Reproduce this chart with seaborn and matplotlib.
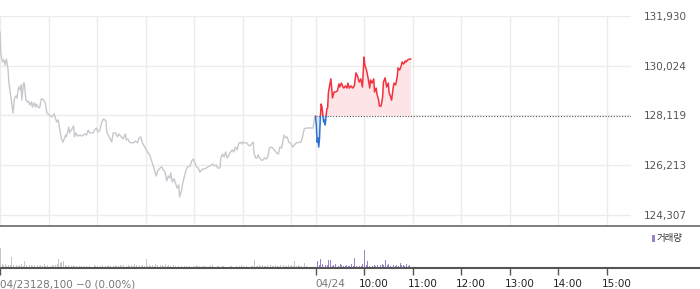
import numpy as np
import pandas as pd
import matplotlib
matplotlib.use("Agg")
import matplotlib.pyplot as plt
import seaborn as sns
from matplotlib.patches import Rectangle
from matplotlib.lines import Line2D
from matplotlib.transforms import ScaledTranslation

# ---------------- data ----------------
# minutes since 09:00 of 04/23 (04/24 session starts at minute 390)
day1_minutes = [
    0, 1, 3, 5, 6, 8, 10, 11, 14, 16, 18, 20, 21, 23, 25, 26, 27, 29, 30, 32,
    34, 35, 37, 39, 40, 42, 44, 45, 47, 49, 51, 53, 56, 58, 61, 64, 67, 70, 72, 74,
    76, 78, 81, 82, 85, 86, 88, 91, 92, 94, 96, 99, 101, 103, 105, 107, 109, 111, 113, 115,
    117, 119, 121, 123, 126, 128, 131, 132, 135, 138, 140, 143, 145, 147, 150, 152, 155, 156, 158, 160,
    163, 165, 167, 170, 172, 174, 176, 179, 181, 183, 185, 187, 189, 191, 193, 195, 198, 200, 202, 204,
    206, 208, 210, 211, 213, 215, 217, 219, 221, 222, 224, 226, 228, 230, 232, 235, 237, 239, 241, 243,
    245, 247, 249, 251, 253, 255, 257, 259, 263, 265, 267, 269, 272, 273, 275, 277, 279, 281, 283, 285,
    287, 289, 291, 293, 295, 297, 299, 300, 302, 305, 307, 309, 311, 313, 314, 316, 318, 319, 321, 323,
    325, 327, 329, 331, 333, 335, 337, 339, 342, 344, 346, 348, 350, 351, 353, 355, 357, 360, 362, 364,
    366, 368, 370, 372, 374, 376, 379, 383, 387, 389, 390,
]
day1_prices = [
    131330, 130510, 130170, 130250, 130050, 130280, 129860, 129360, 128710, 128210,
    128790, 128870, 128790, 129210, 129100, 129290, 128710, 129360, 129360, 128710,
    128640, 128670, 128520, 128640, 128440, 128600, 128440, 128560, 128440, 128410,
    128750, 128750, 128600, 128210, 128140, 128060, 128180, 127870, 127950, 127560,
    127220, 127100, 127370, 127300, 127680, 127450, 127560, 127720, 127300, 127450,
    127330, 127370, 127330, 127370, 127410, 127370, 127560, 127450, 127450, 127450,
    127560, 127640, 127490, 127530, 127870, 127990, 127910, 127490, 127300, 127100,
    127450, 127450, 127300, 127410, 127300, 127220, 127410, 127180, 127220, 127100,
    127070, 127070, 127140, 127070, 127260, 127300, 127070, 126910, 126800, 126680,
    126610, 126410, 126220, 126030, 125800, 125990, 126110, 126150, 126030, 125950,
    125610, 125800, 125720, 125920, 125570, 125690, 125530, 125340, 125460, 125000,
    125190, 125530, 125800, 126030, 126150, 126180, 126380, 126450, 126300, 126150,
    126110, 125950, 126030, 126070, 126070, 126110, 126150, 126180, 126260, 126180,
    126220, 126110, 126110, 126490, 126640, 126530, 126720, 126490, 126610, 126720,
    126800, 126720, 126910, 126800, 127030, 127100, 127030, 127100, 127070, 127070,
    126990, 126950, 127030, 127100, 126680, 126490, 126490, 126610, 126490, 126410,
    126410, 126490, 126450, 126530, 126870, 126910, 126870, 126800, 126680, 126640,
    126910, 126870, 127180, 127370, 127260, 127300, 127100, 127030, 126910, 126990,
    127070, 127070, 127100, 127100, 127300, 127600, 127640, 127640, 127640, 128060,
    128100,
]
day2_minutes = [
    390, 391, 392, 393, 394, 395, 396, 397, 398, 400, 401, 402, 403, 404, 405, 406,
    409, 410, 411, 413, 415, 417, 419, 420, 422, 424, 425, 427, 429, 430, 432, 434,
    436, 438, 440, 442, 444, 446, 448, 450, 451, 453, 455, 457, 458, 460, 462, 463,
    465, 466, 468, 469, 471, 473, 474, 476, 478, 480, 481, 483, 484, 486, 487, 489,
    491, 492, 494, 496, 497, 499, 501, 502, 504, 506, 508,
]
day2_prices = [
    128100, 127760, 127100, 127260, 126910, 127260, 128060, 128560, 128440, 127870,
    127950, 127760, 128060, 128370, 128410, 129020, 129520, 129170, 128790, 129020,
    129020, 129060, 129330, 129210, 129360, 129210, 129170, 129250, 129170, 129360,
    129170, 129250, 129170, 129250, 129750, 129630, 129400, 129520, 129210, 130360,
    130050, 129860, 129560, 129170, 129480, 129360, 129520, 129020, 129170, 128940,
    128710, 128480, 128480, 128830, 129400, 129560, 129210, 129360, 128980, 128830,
    128710, 129170, 129360, 129290, 129590, 129940, 129860, 130020, 130170, 130090,
    130210, 130170, 130250, 130280, 130280,
]
prev_close = 128100

# volume, one bar per 2 minutes
day1_volume = [
    20, 4, 3, 4, 2, 3, 3, 11, 3, 2, 3, 2, 3, 4, 2, 7, 3, 2, 3, 3,
    2, 3, 2, 3, 2, 3, 2, 4, 2, 3, 2, 2, 3, 2, 3, 4, 9, 5, 6, 7,
    3, 2, 3, 2, 2, 3, 2, 2, 1, 2, 2, 1, 2, 2, 1, 2, 2, 1, 3, 2,
    2, 1, 2, 3, 1, 2, 2, 3, 2, 1, 2, 3, 2, 2, 3, 2, 3, 2, 2, 3,
    2, 3, 2, 4, 3, 2, 3, 2, 3, 2, 9, 2, 3, 2, 3, 2, 4, 3, 2, 3,
    3, 2, 4, 2, 3, 2, 4, 3, 2, 1, 2, 3, 2, 1, 2, 2, 1, 2, 1, 2,
    2, 3, 2, 2, 1, 2, 2, 2, 1, 2, 2, 3, 2, 1, 2, 2, 1, 2, 2, 1,
    2, 1, 2, 2, 1, 2, 2, 1, 2, 3, 2, 1, 2, 2, 1, 2, 2, 8, 2, 2,
    3, 2, 3, 2, 2, 3, 2, 3, 2, 2, 3, 2, 2, 3, 2, 3, 2, 2, 3, 2,
    3, 2, 7, 2, 3, 2, 2, 3, 5, 2, 0, 0, 0, 0, 0,
]
day2_volume = [
    36, 7, 3, 9, 4, 2, 3, 3, 8, 8, 2, 3, 4, 2, 2, 4, 3, 2, 2, 3,
    2, 2, 4, 2, 10, 2, 3, 2, 2, 4, 18, 3, 7, 2, 2, 2, 3, 2, 3, 6,
    3, 4, 3, 8, 3, 4, 2, 3, 3, 2, 3, 2, 5, 3, 3, 2, 4, 2, 3,
]
volume_step = 2

price_ticks = [124307, 126213, 128119, 130024, 131930]
hour_grid = [0, 60, 120, 180, 240, 300, 360, 390, 450, 510, 570, 630, 690, 750]
axis_ticks = [0, 390, 450, 510, 570, 630, 690, 750]
axis_labels = ["04/23128,100 \u22120 (0.00%)", "04/24", "10:00", "11:00",
               "12:00", "13:00", "14:00", "15:00"]
session_end = 780

# ---------------- figure ----------------
sns.set_theme(style="white")
plt.rcParams['font.family'] = ['DejaVu Sans', 'Noto Sans CJK KR']

W, H = 700, 289
fig = plt.figure(figsize=(W / 100, H / 100), dpi=100)


def frac(x0, y0, x1, y1):
    return [x0 / W, 1 - y1 / H, (x1 - x0) / W, (y1 - y0) / H]


ax = fig.add_axes(frac(0, 15.5, 631, 225))
axv = fig.add_axes(frac(0, 226, 631, 268))

grid_c = "#ececec"
gray_c = "#c6c8cd"
red_c = "#f2323f"
blue_c = "#2f72d2"

# main price axes
ax.set_xlim(0, session_end)
ax.set_ylim(123924, 131949)
ax.set_xticks(hour_grid)
ax.set_xticklabels([])
ax.set_yticks(price_ticks)
ax.set_yticklabels([f"{v:,}" for v in price_ticks])
ax.yaxis.tick_right()
ax.tick_params(axis="x", length=0)
ax.tick_params(axis="y", length=0, pad=9, labelsize=7.5, labelcolor="#555555")
ax.grid(True, color=grid_c, lw=1)
ax.set_axisbelow(True)
for s in ax.spines.values():
    s.set_visible(False)

df1 = pd.DataFrame({"minute": day1_minutes, "price": day1_prices})
df2 = pd.DataFrame({"minute": day2_minutes, "price": day2_prices})

sns.lineplot(data=df1, x="minute", y="price", ax=ax, color=gray_c, lw=1.0,
             estimator=None, sort=False)

x2 = np.array(day2_minutes, dtype=float)
y2 = np.array(day2_prices, dtype=float)
ax.fill_between(x2, y2, prev_close, where=y2 >= prev_close, interpolate=True,
                color="#fde5e7", lw=0)
ax.fill_between(x2, y2, prev_close, where=y2 <= prev_close, interpolate=True,
                color="#dde8f7", lw=0)

ax.hlines(prev_close, day2_minutes[0], session_end, colors="#555555",
          linestyles=(0, (1, 1.5)), lw=0.8)

sns.lineplot(data=df2, x="minute", y="price", ax=ax, color=red_c, lw=1.1,
             estimator=None, sort=False)
ax.lines[-1].set_clip_path(Rectangle((0, prev_close), session_end, 1e5,
                                     transform=ax.transData))
sns.lineplot(data=df2, x="minute", y="price", ax=ax, color=blue_c, lw=1.1,
             estimator=None, sort=False)
ax.lines[-1].set_clip_path(Rectangle((0, prev_close - 1e5), session_end, 1e5,
                                     transform=ax.transData))
ax.set_xlabel("")
ax.set_ylabel("")

# volume axes
axv.set_xlim(0, session_end)
axv.set_ylim(0, 42)
v1x = [i * volume_step for i in range(len(day1_volume))]
v2x = [day2_minutes[0] + i * volume_step for i in range(len(day2_volume))]
axv.bar(v1x, day1_volume, width=1.1, color="#c4c6cb", lw=0, align="edge")
v2c = [gray_c] + ["#9883c8"] * (len(day2_volume) - 1)
axv.bar(v2x, day2_volume, width=1.1, color=v2c, lw=0, align="edge")
axv.set_yticks([])
for s in axv.spines.values():
    s.set_visible(False)
axv.set_xticks(axis_ticks)
axv.set_xticklabels(axis_labels)
axv.tick_params(axis="x", length=5, width=1, color="#555555", direction="out",
                pad=3, labelsize=7.5, bottom=True)
for i, lbl in enumerate(axv.get_xticklabels()):
    lbl.set_horizontalalignment("left")
    dx = 0 if i < 2 else -5
    lbl.set_color("#777777" if i < 2 else "#222222")
    lbl.set_transform(lbl.get_transform() +
                      ScaledTranslation(dx / 100, 0, fig.dpi_scale_trans))

# separator lines spanning the whole width
fig.add_artist(Line2D([0, 1], [1 - 225.5 / H] * 2, transform=fig.transFigure,
                      color="#6a6a6a", lw=1.2))
fig.add_artist(Line2D([0, 1], [1 - 268 / H] * 2, transform=fig.transFigure,
                      color="#555555", lw=1.5))

# legend
fig.add_artist(Rectangle((652 / W, 1 - 241.5 / H), 3 / W, 7 / H,
                         transform=fig.transFigure, color="#9883c8", lw=0))
fig.text(657 / W, 1 - 238 / H, "거래량", fontsize=6.8, color="#333333",
         va="center", ha="left", family=["Noto Sans CJK KR", "DejaVu Sans"])

fig.savefig("out.png", dpi=100)
